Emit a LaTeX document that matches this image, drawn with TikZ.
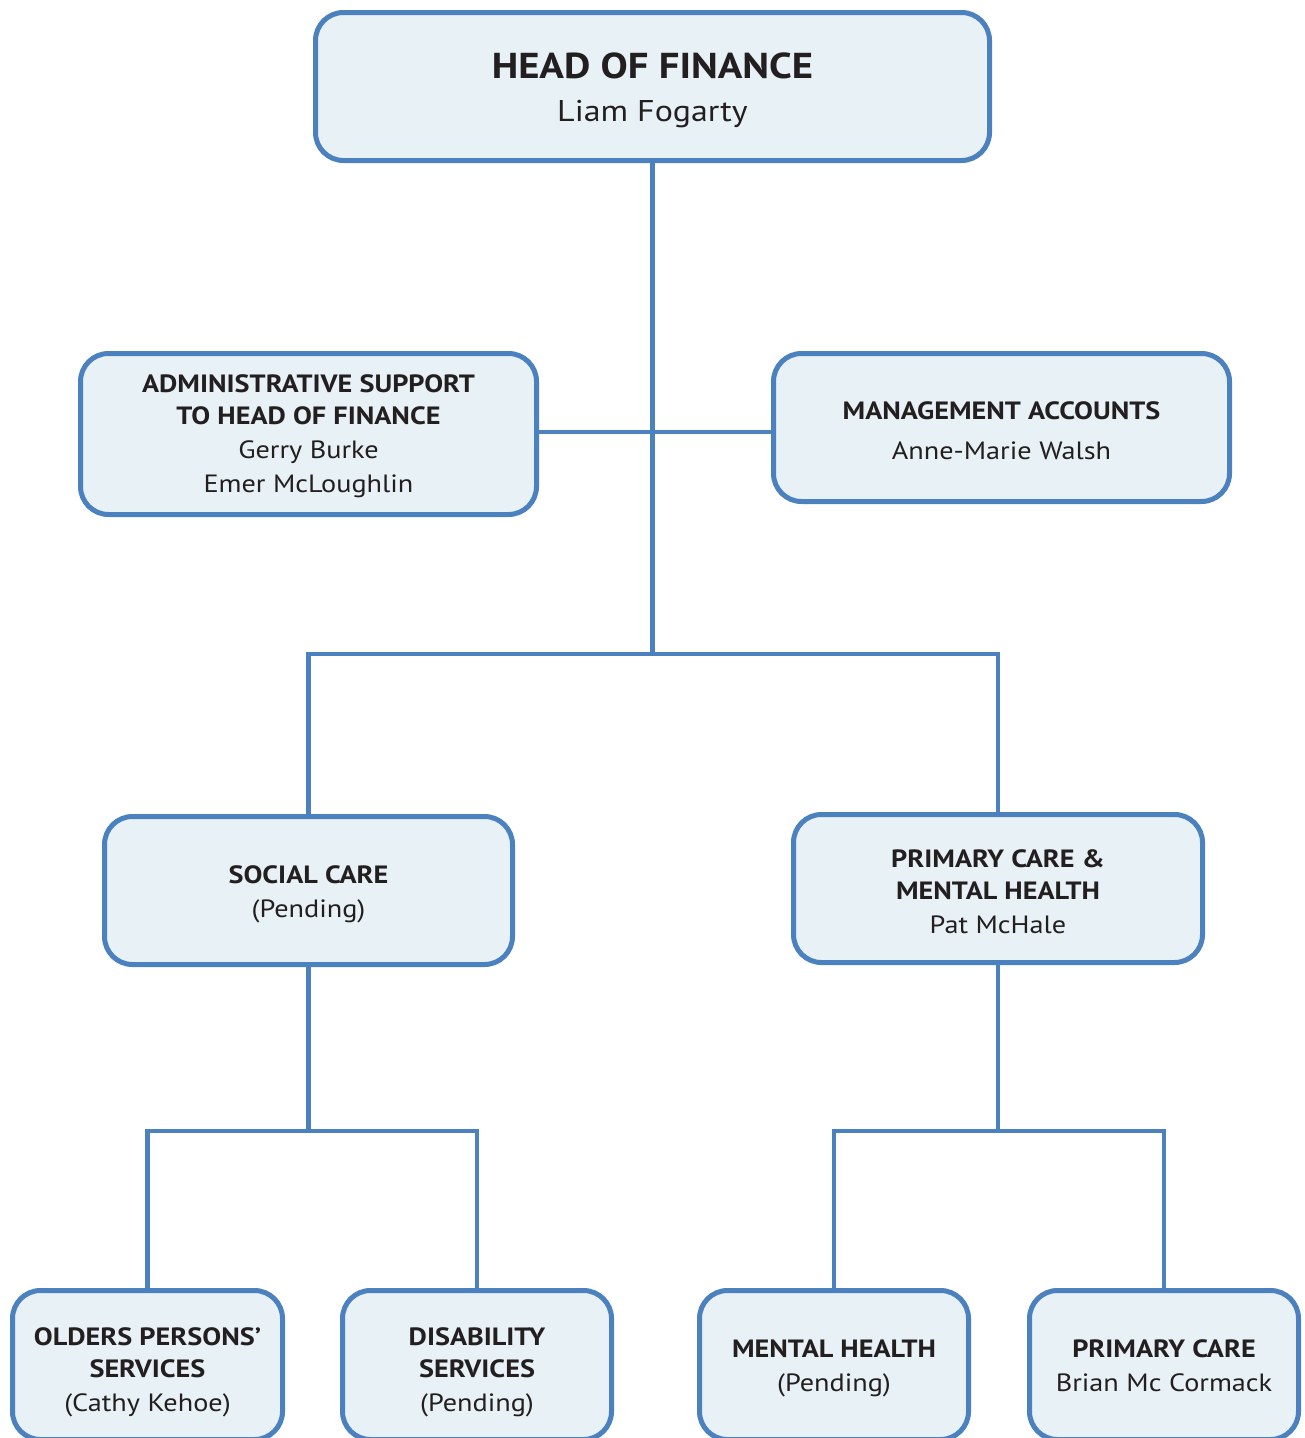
\documentclass[tikz,border=0pt]{standalone}
\usepackage{fontspec}
\setmainfont{PT Sans}[FakeStretch=1.13]
\definecolor{bline}{RGB}{75,129,191}
\definecolor{bfill}{RGB}{232,241,245}
\definecolor{txt}{RGB}{35,31,32}
\begin{document}
\begin{tikzpicture}[x=1pt,y=-1pt,
  box/.style={draw=bline,fill=bfill,line width=5pt,rounded corners=28pt,inner sep=0pt},
  lbl/.style={align=center,text=txt,inner sep=0pt,yshift=-3.5pt,
    font=\fontsize{25}{34}\selectfont},
  conn/.style={draw=bline,line width=4.5pt}]
\useasboundingbox (0,0) rectangle (1305,1438);
\clip (0,0) rectangle (1305,1438);
% boxes
\node[box,minimum width=674pt,minimum height=148pt] (head) at (652.5,86.5) {};
\node[box,minimum width=456pt,minimum height=161pt] (admin) at (308.5,434) {};
\node[box,minimum width=456pt,minimum height=148pt] (mgmt) at (1001.5,427.5) {};
\node[box,minimum width=408pt,minimum height=148pt] (social) at (308.5,890.5) {};
\node[box,minimum width=409pt,minimum height=148pt] (pcmh) at (998,888.5) {};
\node[box,minimum width=270pt,minimum height=149pt] (older) at (147.5,1365) {};
\node[box,minimum width=269pt,minimum height=149pt] (disab) at (477,1365) {};
\node[box,minimum width=269pt,minimum height=149pt] (mh) at (834,1365) {};
\node[box,minimum width=269pt,minimum height=149pt] (pc) at (1164,1365) {};
% texts
\node[lbl,font=\fontsize{30}{43}\selectfont] (headT) at (head)
  {\textbf{\fontsize{36}{43}\selectfont HEAD OF FINANCE}\\Liam Fogarty};
\node[lbl] (adminT) at ([yshift=1.5pt]admin)
  {\textbf{ADMINISTRATIVE SUPPORT}\\[-2pt]\textbf{TO HEAD OF FINANCE}\\Gerry Burke\\Emer McLoughlin};
\node[lbl] (mgmtT) at (mgmt)
  {\textbf{MANAGEMENT ACCOUNTS}\\[6pt]Anne-Marie Walsh};
\node[lbl] (socialT) at (social)
  {\textbf{SOCIAL CARE}\\(Pending)};
\node[lbl] (pcmhT) at (pcmh)
  {\textbf{PRIMARY CARE \&}\\[-2pt]\textbf{MENTAL HEALTH}\\Pat McHale};
\node[lbl] (olderT) at ([yshift=-4pt]older)
  {\textbf{OLDERS PERSONS’}\\[-2pt]\textbf{SERVICES}\\(Cathy Kehoe)};
\node[lbl] (disabT) at ([yshift=-4pt]disab)
  {\textbf{DISABILITY}\\[-2pt]\textbf{SERVICES}\\(Pending)};
\node[lbl] (mhT) at (mh)
  {\textbf{MENTAL HEALTH}\\(Pending)};
\node[lbl] (pcT) at ([yshift=3pt]pc)
  {\textbf{PRIMARY CARE}\\Brian Mc Cormack};
% junctions
\coordinate (hub) at (652.5,432);
\coordinate (j1) at (652.5,654);
\coordinate (j2) at (309,1131);
\coordinate (j3) at (997,1131);
% connectors
\draw[conn] (head.south) -- (j1);
\draw[conn] (admin.east |- hub) -- (mgmt.west |- hub);
\draw[conn] (social.north) -- (social.north |- j1) -- (pcmh.north |- j1) -- (pcmh.north);
\draw[conn] (social.south) -- (social.south |- j2);
\draw[conn] (older.north) -- (older.north |- j2) -- (disab.north |- j2) -- (disab.north);
\draw[conn] (pcmh.south) -- (pcmh.south |- j3);
\draw[conn] (mh.north) -- (mh.north |- j3) -- (pc.north |- j3) -- (pc.north);
\end{tikzpicture}
\end{document}
